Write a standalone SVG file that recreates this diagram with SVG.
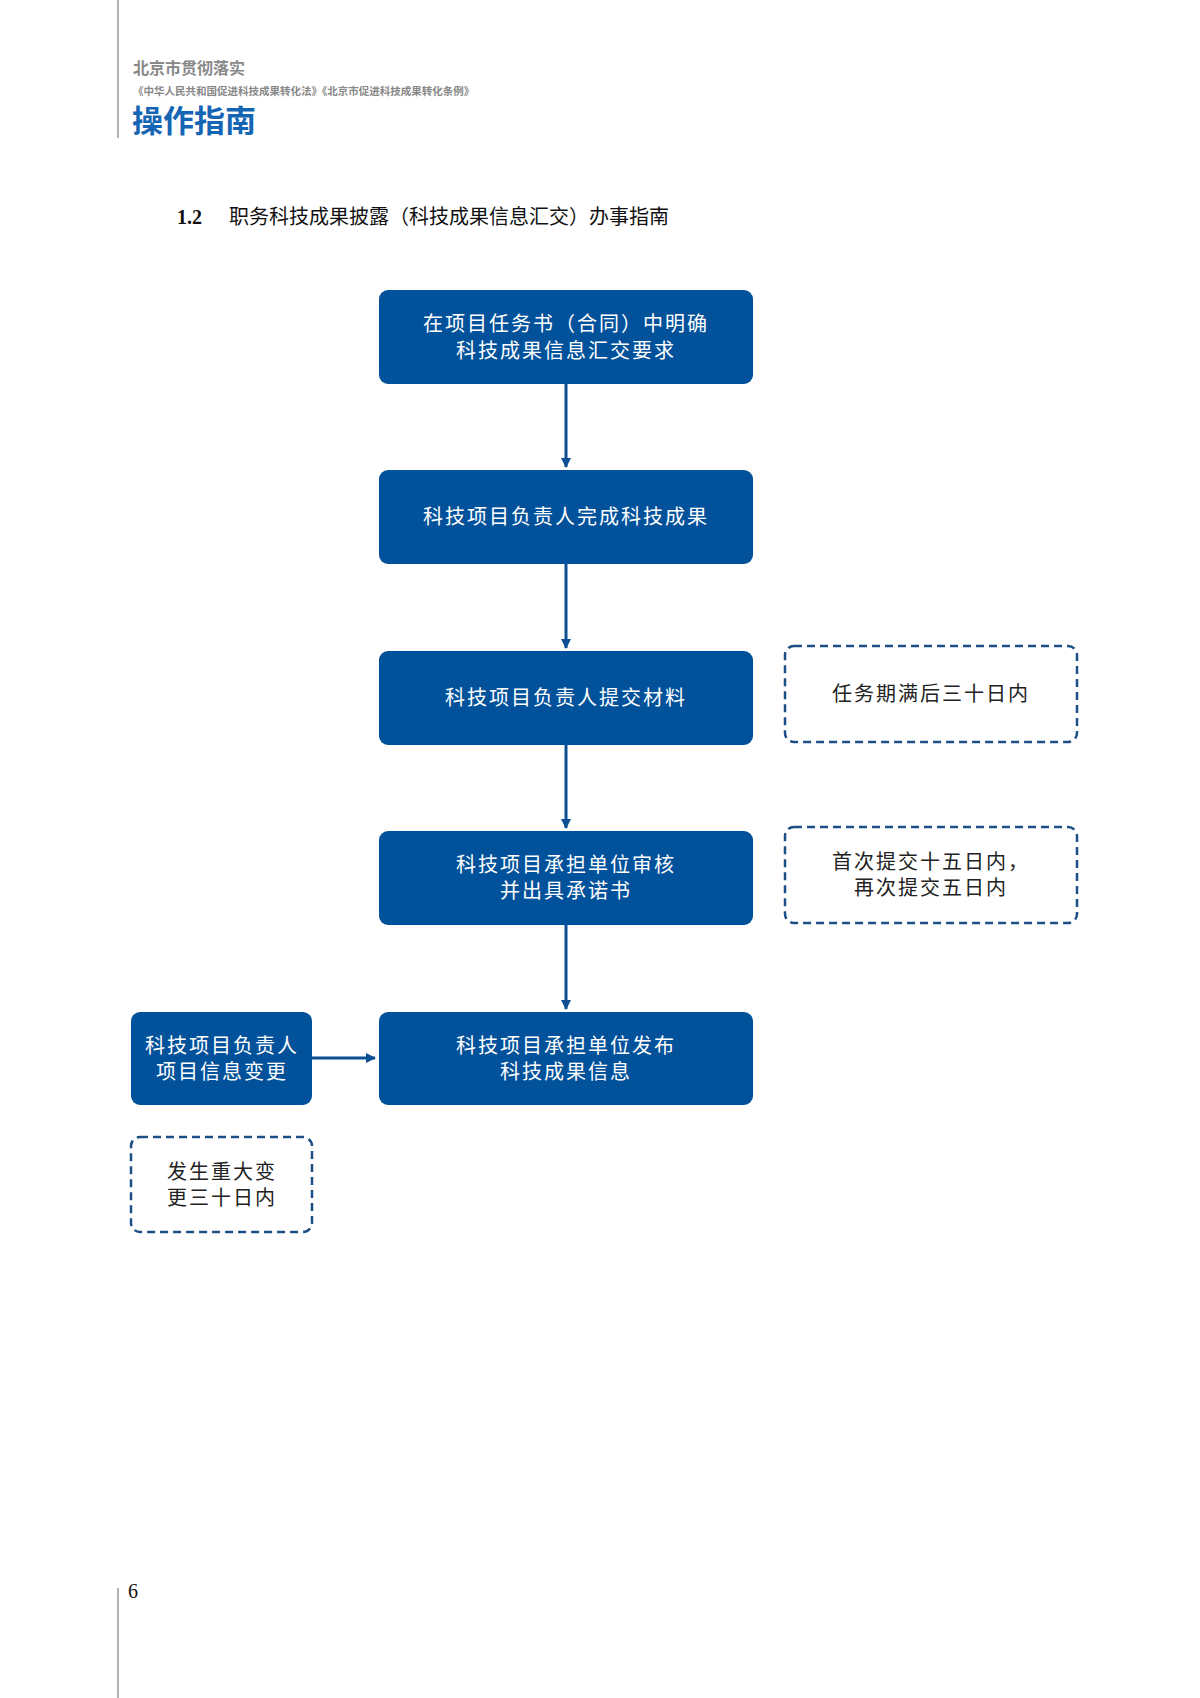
<svg xmlns="http://www.w3.org/2000/svg" width="1200" height="1698" viewBox="0 0 1200 1698">
<style>
.cjk{font-family:"Noto Sans CJK SC","Liberation Sans",sans-serif}
.box{fill:#02519b}
.dash{fill:none;stroke:#1d4f86;stroke-width:2.5;stroke-dasharray:8 5}
.wt{fill:#fff;font-size:20px;letter-spacing:2px;text-anchor:middle}
.dt{fill:#222;font-size:20px;letter-spacing:2px;text-anchor:middle}
.ln{stroke:#0c4f93;stroke-width:3;fill:none}
</style>
<defs><marker id="ah" markerWidth="10" markerHeight="10" refX="9" refY="5" orient="auto" markerUnits="userSpaceOnUse"><path d="M0,0 L10,5 L0,10 Z" fill="#0c4f93"/></marker></defs>
<rect width="1200" height="1698" fill="#fff"/>
<line x1="118" y1="0" x2="118" y2="138" stroke="#999" stroke-width="1.5"/>
<line x1="118" y1="1588" x2="118" y2="1698" stroke="#999" stroke-width="1.5"/>
<text x="133" y="74" class="cjk" font-size="16" font-weight="bold" fill="#888">北京市贯彻落实</text>
<text x="133" y="95" class="cjk" font-size="10.5" font-weight="bold" fill="#888">《中华人民共和国促进科技成果转化法》《北京市促进科技成果转化条例》</text>
<text x="132" y="132" class="cjk" font-size="31" font-weight="bold" fill="#1565b5">操作指南</text>
<text x="177" y="224" font-family="Liberation Serif,serif" font-size="20" font-weight="bold" fill="#111">1.2</text>
<text x="229" y="224" font-family="'Noto Sans CJK SC',serif" font-size="20" fill="#111">职务科技成果披露（科技成果信息汇交）办事指南</text>
<text x="128" y="1598" font-family="Liberation Serif,serif" font-size="20" fill="#111">6</text>
<g id="connectors">
<line class="ln" x1="566" y1="384" x2="566" y2="467" marker-end="url(#ah)"/>
<line class="ln" x1="566" y1="564" x2="566" y2="648" marker-end="url(#ah)"/>
<line class="ln" x1="566" y1="745" x2="566" y2="828" marker-end="url(#ah)"/>
<line class="ln" x1="566" y1="925" x2="566" y2="1009" marker-end="url(#ah)"/>
<line class="ln" x1="312" y1="1058" x2="375" y2="1058" marker-end="url(#ah)"/>
</g>
<g id="n1"><rect class="box" x="379" y="290" width="374" height="94" rx="9"/><text class="wt cjk" x="566" y="331">在项目任务书（合同）中明确</text><text class="wt cjk" x="566" y="358">科技成果信息汇交要求</text></g>
<g id="n2"><rect class="box" x="379" y="470" width="374" height="94" rx="9"/><text class="wt cjk" x="566" y="524">科技项目负责人完成科技成果</text></g>
<g id="n3"><rect class="box" x="379" y="651" width="374" height="94" rx="9"/><text class="wt cjk" x="566" y="705">科技项目负责人提交材料</text></g>
<g id="n4"><rect class="box" x="379" y="831" width="374" height="94" rx="9"/><text class="wt cjk" x="566" y="872">科技项目承担单位审核</text><text class="wt cjk" x="566" y="898">并出具承诺书</text></g>
<g id="n5"><rect class="box" x="379" y="1012" width="374" height="93" rx="9"/><text class="wt cjk" x="566" y="1053">科技项目承担单位发布</text><text class="wt cjk" x="566" y="1079">科技成果信息</text></g>
<g id="n6"><rect class="box" x="131" y="1012" width="181" height="93" rx="9"/><text class="wt cjk" x="222" y="1053" letter-spacing="1">科技项目负责人</text><text class="wt cjk" x="222" y="1079">项目信息变更</text></g>
<g id="d1"><rect class="dash" x="785" y="646" width="292" height="96" rx="9"/><text class="dt cjk" x="931" y="701">任务期满后三十日内</text></g>
<g id="d2"><rect class="dash" x="785" y="827" width="292" height="96" rx="9"/><text class="dt cjk" x="931" y="869">首次提交十五日内，</text><text class="dt cjk" x="931" y="895">再次提交五日内</text></g>
<g id="d3"><rect class="dash" x="131" y="1137" width="181" height="95" rx="9"/><text class="dt cjk" x="222" y="1179">发生重大变</text><text class="dt cjk" x="222" y="1205">更三十日内</text></g>
</svg>
